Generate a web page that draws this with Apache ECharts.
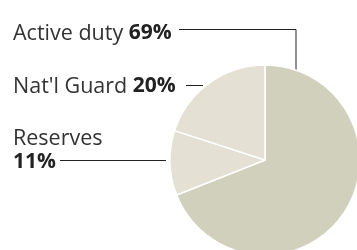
<!DOCTYPE html>
<html><head><meta charset="utf-8">
<script src="https://cdn.jsdelivr.net/npm/echarts@6/dist/echarts.min.js"></script>
<style>html,body{margin:0;padding:0;background:#fff}#c{width:357px;height:250px}</style>
</head><body><div id="c"></div>
<script>
const categories = ["Active duty", "Reserves", "Nat'l Guard"];
const values = [69, 11, 20];
const colors = ["#d1d0bc", "#e4e0d4", "#e4e0d4"];

const FONT = "Open Sans";
const labelSpots = [
  {x: 13, y: 33.5, line: [[296, 74], [296, 29.5], [179, 29.5]]},
  {x: 13, y: 150.5, line: [[166, 160.5], [113, 160.5], [60, 160.5]]},
  {x: 13, y: 86.5, line: [[203, 85.5], [194, 85.5], [186, 85.5]]}
];

const chart = echarts.init(document.getElementById('c'), null, {renderer: 'canvas'});
chart.setOption({
  animation: false,
  series: [{
    type: 'pie',
    center: [265, 160],
    radius: 95,
    startAngle: 90,
    clockwise: true,
    avoidLabelOverlap: false,
    data: categories.map((n, i) => ({name: n, value: values[i], itemStyle: {color: colors[i]}})),
    itemStyle: {borderColor: '#fff', borderWidth: 1.5},
    emphasis: {disabled: true},
    label: {
      show: true,
      position: 'outside',
      fontFamily: FONT,
      fontSize: 21.5,
      color: '#333',
      lineHeight: 24,
      formatter: p => p.name === 'Reserves' ? p.name + '\n{b|' + p.value + '%}' : p.name + ' {b|' + p.value + '%}',
      rich: {b: {fontFamily: FONT, fontSize: 21, fontWeight: 'bold', color: '#222', lineHeight: 24}}
    },
    labelLine: {show: true, lineStyle: {color: '#222', width: 1}},
    labelLayout: p => {
      const s = labelSpots[p.dataIndex];
      return {x: s.x, y: s.y, align: 'left', verticalAlign: 'middle', labelLinePoints: s.line};
    }
  }]
});
</script></body></html>
